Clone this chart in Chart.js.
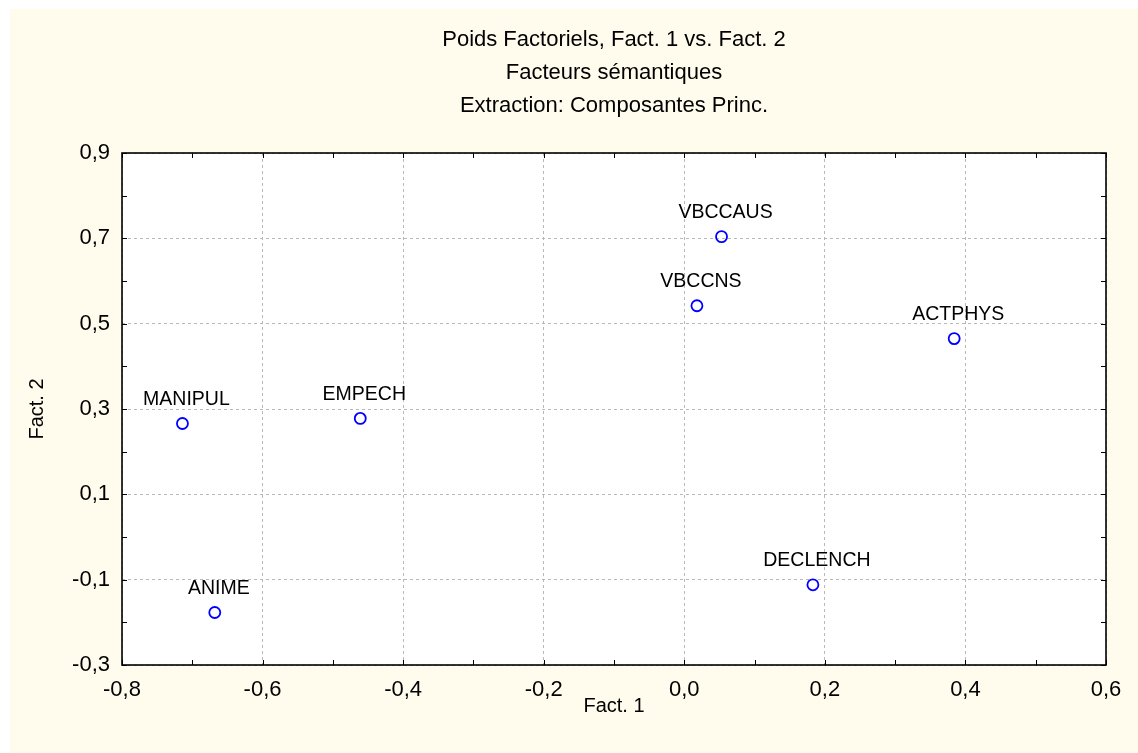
<!DOCTYPE html>
<html>
<head>
<meta charset="utf-8">
<script src="https://cdn.jsdelivr.net/npm/chart.js@4/dist/chart.umd.min.js"></script>
<style>
  body { margin: 0; background: #fff; }
</style>
</head>
<body>
<canvas id="chart-fact" width="1138" height="753"></canvas>
<script>
const names = ['MANIPUL', 'ANIME', 'EMPECH', 'VBCCAUS', 'VBCCNS', 'ACTPHYS', 'DECLENCH'];
const fact1 = [-0.714, -0.668, -0.461, 0.053, 0.018, 0.384, 0.183];
const fact2 = [0.266, -0.177, 0.278, 0.704, 0.542, 0.465, -0.112];

const xTicks = [-0.8, -0.6, -0.4, -0.2, 0.0, 0.2, 0.4, 0.6];
const yTicks = [-0.3, -0.1, 0.1, 0.3, 0.5, 0.7, 0.9];
const xMinor = [-0.7, -0.5, -0.3, -0.1, 0.1, 0.3, 0.5];
const yMinor = [-0.2, 0.0, 0.2, 0.4, 0.6, 0.8];

const titleLines = [
    'Poids Factoriels, Fact. 1 vs. Fact. 2',
    'Facteurs sémantiques',
    'Extraction: Composantes Princ.'
];

const font = '"Liberation Sans", Arial, Helvetica, sans-serif';

const fmt = (v) => Number(v).toFixed(1).replace('.', ',');

// cream panel + white plot area
const backdrop = {
    id: 'backdrop',
    beforeDraw(chart) {
        const ctx = chart.ctx;
        const a = chart.chartArea;
        ctx.save();
        ctx.fillStyle = '#fffcee';
        ctx.fillRect(10, 9, chart.width - 10, chart.height - 9);
        ctx.fillStyle = '#ffffff';
        ctx.fillRect(a.left, a.top, a.right - a.left, a.bottom - a.top);
        ctx.restore();
    }
};

// frame and inward tick marks on all four sides
const frame = {
    id: 'frame',
    afterDraw(chart) {
        const ctx = chart.ctx;
        const a = chart.chartArea;
        const sx = chart.scales.x;
        const sy = chart.scales.y;
        const len = 5;
        ctx.save();
        ctx.strokeStyle = '#000';
        ctx.lineWidth = 1;
        ctx.beginPath();
        xTicks.concat(xMinor).forEach(v => {
            const px = Math.round(sx.getPixelForValue(v)) + 0.5;
            ctx.moveTo(px, a.bottom);
            ctx.lineTo(px, a.bottom - len);
            ctx.moveTo(px, a.top);
            ctx.lineTo(px, a.top + len);
        });
        yTicks.concat(yMinor).forEach(v => {
            const py = Math.round(sy.getPixelForValue(v)) + 0.5;
            ctx.moveTo(a.left, py);
            ctx.lineTo(a.left + len, py);
            ctx.moveTo(a.right, py);
            ctx.lineTo(a.right - len, py);
        });
        ctx.stroke();
        ctx.lineWidth = 1.6;
        ctx.strokeRect(a.left, a.top, a.right - a.left, a.bottom - a.top);
        ctx.restore();
    }
};

// variable names above each point
const pointLabels = {
    id: 'pointLabels',
    afterDatasetsDraw(chart) {
        const ctx = chart.ctx;
        const meta = chart.getDatasetMeta(0);
        ctx.save();
        ctx.font = '19.5px ' + font;
        ctx.fillStyle = '#000';
        ctx.textAlign = 'center';
        ctx.textBaseline = 'middle';
        meta.data.forEach((pt, i) => {
            ctx.fillText(names[i], pt.x + 4, pt.y - 24);
        });
        ctx.restore();
    }
};

const data = {
    datasets: [{
        label: 'Poids',
        data: fact1.map((x, i) => ({ x: x, y: fact2[i] })),
        pointStyle: 'circle',
        pointRadius: 5.5,
        pointHoverRadius: 5.5,
        borderWidth: 1.8,
        borderColor: '#0000ff',
        backgroundColor: 'rgba(255,255,255,0)'
    }]
};

const options = {
    responsive: false,
    animation: false,
    layout: {
        padding: { left: 10, right: 32, top: 0, bottom: 0 }
    },
    plugins: {
        legend: { display: false },
        tooltip: { enabled: false },
        title: {
            display: true,
            fullSize: false,
            text: titleLines,
            color: '#000',
            font: { family: font, size: 22, weight: 'normal', lineHeight: '33px' },
            padding: { top: 23.5, bottom: 30.5 }
        }
    },
    scales: {
        x: {
            type: 'linear',
            min: -0.8,
            max: 0.6,
            afterBuildTicks: (s) => { s.ticks = xTicks.map(v => ({ value: v })); },
            afterFit: (s) => { s.height = 88; },
            grid: { color: '#b8b8b8', lineWidth: 1, drawTicks: false },
            border: { display: false, dash: [3, 3] },
            ticks: {
                color: '#000',
                font: { family: font, size: 22 },
                padding: 12,
                maxRotation: 0,
                callback: fmt
            },
            title: {
                display: true,
                text: 'Fact. 1',
                color: '#000',
                font: { family: font, size: 20 },
                padding: { top: 0, bottom: 35 }
            }
        },
        y: {
            type: 'linear',
            min: -0.3,
            max: 0.9,
            afterBuildTicks: (s) => { s.ticks = yTicks.map(v => ({ value: v })); },
            afterFit: (s) => { s.width = 112; },
            grid: { color: '#b8b8b8', lineWidth: 1, drawTicks: false },
            border: { display: false, dash: [3, 3] },
            ticks: {
                color: '#000',
                font: { family: font, size: 22 },
                padding: 12,
                callback: fmt
            },
            title: {
                display: true,
                text: 'Fact. 2',
                color: '#000',
                font: { family: font, size: 20 },
                padding: { top: 15, bottom: 0 }
            }
        }
    }
};

const config = {
    type: 'scatter',
    data: data,
    options: options,
    plugins: [backdrop, frame, pointLabels]
};

const chart_fact = new Chart(
    document.getElementById('chart-fact'),
    config
);
</script>
</body>
</html>
